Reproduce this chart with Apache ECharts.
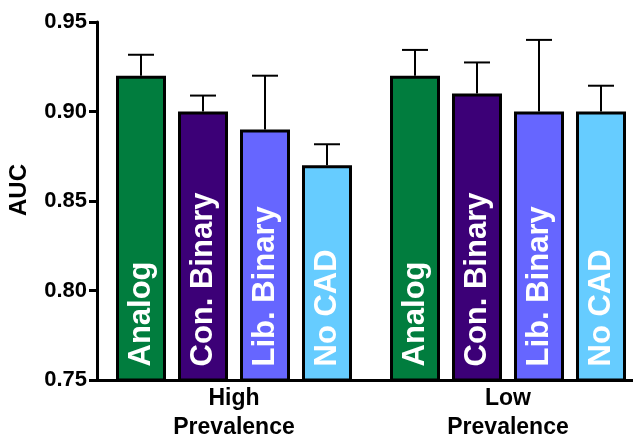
<!DOCTYPE html>
<html>
<head>
<meta charset="utf-8">
<script src="https://cdn.jsdelivr.net/npm/echarts@6/dist/echarts.min.js"></script>
<style>html,body{margin:0;padding:0;background:#fff;}#c{width:633px;height:435px;}</style>
</head>
<body>
<div id="c"></div>
<script>
const categories = ['High\nPrevalence', 'Low\nPrevalence'];
const seriesNames = ['Analog', 'Con. Binary', 'Lib. Binary', 'No CAD'];
const seriesColors = ['#017D3E', '#3C0077', '#6666FF', '#66CCFF'];
const analog = [0.92, 0.92];
const conBinary = [0.90, 0.91];
const libBinary = [0.89, 0.90];
const noCad = [0.87, 0.90];
const analogUpper = [0.9317, 0.9344];
const conBinaryUpper = [0.9089, 0.9274];
const libBinaryUpper = [0.92, 0.94];
const noCadUpper = [0.8817, 0.9144];
const yTicks = [0.75, 0.80, 0.85, 0.90, 0.95];

const values = [analog, conBinary, libBinary, noCad];
const uppers = [analogUpper, conBinaryUpper, libBinaryUpper, noCadUpper];

const BAR_W = 50, GAP_PX = 12, CAP_W = 26;
const FONT = '"Liberation Sans", Arial, sans-serif';

const errData = [];
values.forEach((arr, s) => arr.forEach((v, c) => errData.push([c, s, v, uppers[s][c]])));

const chart = echarts.init(document.getElementById('c'));
const series = seriesNames.map((name, s) => ({
  name, type: 'bar',
  data: values[s],
  barWidth: BAR_W,
  barGap: (GAP_PX / BAR_W * 100) + '%',
  itemStyle: { color: seriesColors[s], borderColor: '#000', borderWidth: 3 },
  label: {
    show: true, position: 'insideBottom', distance: 15, rotate: 90,
    align: 'left', verticalAlign: 'middle',
    formatter: name, color: '#fff', fontSize: 31, fontWeight: 'bold', fontFamily: FONT
  },
  z: 3
}));
series.push({
  type: 'custom',
  data: errData,
  encode: { x: 0, y: [2, 3] },
  z: 2,
  renderItem: function (params, api) {
    const c = api.value(0), s = api.value(1);
    const base = api.coord([c, api.value(2)]);
    const top = api.coord([c, api.value(3)]);
    const n = seriesNames.length;
    const x = base[0] + (s - (n - 1) / 2) * (BAR_W + GAP_PX);
    const st = { stroke: '#000', lineWidth: 2 };
    return {
      type: 'group',
      children: [
        { type: 'line', shape: { x1: x, y1: base[1], x2: x, y2: top[1] }, style: st },
        { type: 'line', shape: { x1: x - CAP_W / 2, y1: top[1], x2: x + CAP_W / 2, y2: top[1] }, style: st }
      ]
    };
  }
});

chart.setOption({
  animation: false,
  grid: { left: 97, top: 22, height: 358, width: 548, outerBoundsMode: 'none', containLabel: false },
  xAxis: {
    type: 'category', data: categories,
    axisLine: { lineStyle: { color: '#000', width: 3 } },
    axisTick: { alignWithLabel: true, length: 7, lineStyle: { color: '#000', width: 2 } },
    axisLabel: { color: '#000', fontSize: 23, fontWeight: 'bold', fontFamily: FONT, lineHeight: 29, margin: 4 }
  },
  yAxis: {
    type: 'value', min: yTicks[0], max: yTicks[yTicks.length - 1], interval: 0.05,
    name: 'AUC', nameLocation: 'middle', nameGap: 66,
    nameTextStyle: { color: '#000', fontSize: 24, fontWeight: 'bold', fontFamily: FONT, padding: [0, 0, 0, 22] },
    splitLine: { show: false },
    axisLine: { show: true, lineStyle: { color: '#000', width: 3 } },
    axisTick: { show: true, length: 8, lineStyle: { color: '#000', width: 3 } },
    axisLabel: { color: '#000', fontSize: 22, fontWeight: 'bold', fontFamily: FONT, margin: 10,
      formatter: v => v.toFixed(2) }
  },
  series
});
</script>
</body>
</html>
